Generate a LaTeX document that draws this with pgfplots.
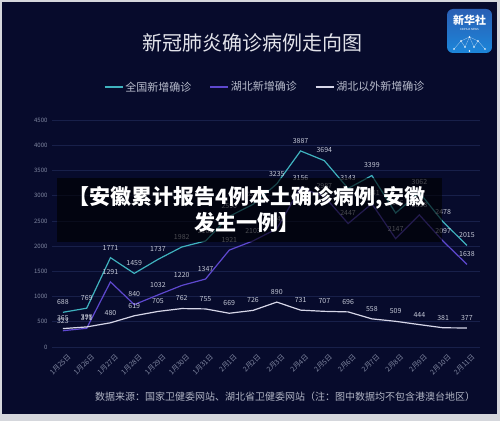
\documentclass[border=0pt]{standalone}
\usepackage{pgfplots}
\pgfplotsset{compat=1.18}
\usepackage{fontspec}
\setmainfont{Noto Sans CJK SC}
\usetikzlibrary{shadings}
\definecolor{bg}{HTML}{070B2C}
\definecolor{framec}{HTML}{D5D7DC}
\definecolor{natl}{HTML}{3FB2BE}
\definecolor{hubei}{HTML}{5E48CF}
\definecolor{outside}{HTML}{D6D6E8}
\definecolor{gridc}{HTML}{18204A}
\definecolor{lab}{HTML}{C4C8D6}
\definecolor{tickc}{HTML}{7F86A0}
\definecolor{titlec}{HTML}{E2E3EA}
\definecolor{legc}{HTML}{B8BCCC}
\definecolor{footc}{HTML}{B0B4C4}
\definecolor{logotop}{HTML}{2A5FB4}
\definecolor{logobot}{HTML}{1C86DA}
\pgfplotstableread{
x natl hubei outside
0 688 323 365
1 769 371 398
2 1771 1291 480
3 1459 840 619
4 1737 1032 705
5 1982 1220 762
6 2102 1347 755
7 2590 1921 669
8 2829 2103 726
9 3235 2345 890
10 3887 3156 731
11 3694 2987 707
12 3143 2447 696
13 3399 2841 558
14 2656 2147 509
15 3062 2618 444
16 2478 2097 381
17 2015 1638 377
}\datatable
\begin{document}
\begin{tikzpicture}[x=1pt,y=1pt]
\fill[framec] (0,0) rectangle (500,421);
\fill[bg] (2,7) rectangle (497,419);
\node[text=titlec, font=\fontsize{20}{24}\selectfont] at (252,378) {新冠肺炎确诊病例走向图};
\begin{axis}[at={(52pt,74pt)}, anchor=south west, scale only axis,
  width=428pt, height=227pt,
  xmin=-0.46, xmax=17.55, ymin=0, ymax=4500,
  ytick={0,500,...,4500}, xtick={0,...,17},
  xticklabels={1月25日,1月26日,1月27日,1月28日,1月29日,1月30日,1月31日,2月1日,2月2日,2月3日,2月4日,2月5日,2月6日,2月7日,2月8日,2月9日,2月10日,2月11日},
  axis line style={draw=none}, major tick length=0pt,
  ymajorgrids, grid style={gridc, line width=0.6pt},
  clip=false,
  /pgf/number format/1000 sep={},
  /pgf/number format/assume math mode=true,
  yticklabel style={font=\fontsize{6}{7}\selectfont, text=tickc, xshift=-1pt},
  xticklabel style={rotate=45, anchor=north east, font=\fontsize{7}{8}\selectfont, text=tickc, yshift=-4pt, xshift=2pt},
  nodes near coords,
  every node near coord/.append style={font=\fontsize{7}{8}\selectfont, text=lab, inner sep=0pt, yshift=7pt},
  legend columns=3,
  legend style={at={(0.498,1.145)}, anchor=center, draw=none, fill=none, text=legc, font=\fontsize{11}{13}\selectfont, /tikz/every even column/.append style={column sep=16pt}},
  legend image code/.code={\draw[#1, line width=1.5pt] (0pt,0pt) -- (18pt,0pt);},
]
\addplot[natl, line width=1.2pt] table[x=x, y=natl] {\datatable};
\addlegendentry{全国新增确诊}
\addplot[hubei, line width=1.2pt] table[x=x, y=hubei] {\datatable};
\addlegendentry{湖北新增确诊}
\addplot[outside, line width=1.2pt] table[x=x, y=outside] {\datatable};
\addlegendentry{湖北以外新增确诊}
\end{axis}
% overlay banner
\fill[black, opacity=0.62] (57,179) rectangle (442,243);
\node[text=white, font=\fontsize{21}{26}\selectfont\bfseries, align=center] at (247,212) {【安徽累计报告4例本土确诊病例,安徽\\发生一例】};
% logo
\shade[rounded corners=6pt, top color=logotop, bottom color=logobot] (447,368) rectangle (492,412);
\node[text=white, font=\fontsize{11}{12}\selectfont\bfseries] at (469.5,401) {新华社};
\node[text=white, font=\fontsize{2.8}{3}\selectfont] at (469.5,391.5) {XINHUA NEWS};
\draw[white, opacity=0.6, line width=0.3pt] (454,372) -- (461,380) -- (469.5,384) -- (478,380) -- (485,372);
\draw[white, opacity=0.6, line width=0.3pt] (461,380) -- (465,374) -- (469.5,384) -- (474,374) -- (478,380);
\foreach \p in {(454,372),(461,380),(469.5,384),(478,380),(485,372),(465,374),(474,374),(469.5,370)}
  \fill[white] \p circle (0.9);
% footer
\node[text=footc, font=\fontsize{10}{12}\selectfont] at (285,24) {数据来源：国家卫健委网站、湖北省卫健委网站（注：图中数据均不包含港澳台地区）};
\end{tikzpicture}
\end{document}
